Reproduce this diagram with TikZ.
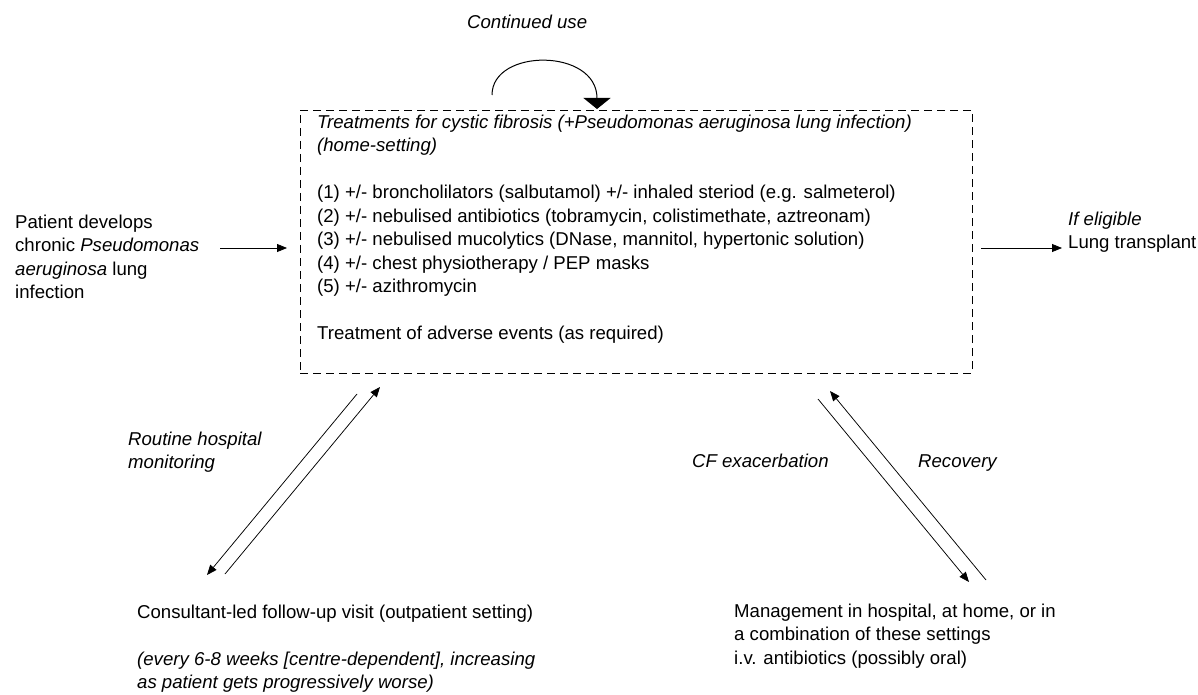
\documentclass[tikz,border=0pt]{standalone}
\usepackage{fontspec}
\setmainfont{Liberation Sans}
\usetikzlibrary{arrows.meta}
\newcommand{\fs}{\fontsize{18.6}{23.5}\selectfont}
\begin{document}
\begin{tikzpicture}[x=1pt,y=1pt,
  txt/.style={anchor=north west, inner sep=0pt, align=left, font=\fs},
  itxt/.style={txt, font=\fs\itshape},
  conn/.style={line width=0.75pt, -{Triangle[length=10pt,width=8pt]}},
  dashbox/.style={draw, line width=0.8pt, dash pattern=on 8pt off 5pt, minimum width=672pt, minimum height=263pt, inner sep=0pt}
  ]
\useasboundingbox (0,0) rectangle (1198,-695);
% main box
\node[dashbox] (box) at (636,-241.5) {};
\node[txt] (main) at (317,-111.55) {\strut\textit{Treatments for cystic fibrosis (+Pseudomonas aeruginosa lung infection)}\\
\textit{(home-setting)}\\
\strut\\
(1) +/- broncholilators (salbutamol) +/- inhaled steriod (e.g. salmeterol)\\
(2) +/- nebulised antibiotics (tobramycin, colistimethate, aztreonam)\\
(3) +/- nebulised mucolytics (DNase, mannitol, hypertonic solution)\\
(4) +/- chest physiotherapy / PEP masks\\
(5) +/- azithromycin\\
\strut\\
Treatment of adverse events (as required)};
% continued use
\node[itxt] (cu) at (467,-11.55) {\strut Continued use};
\coordinate (cuS) at (492,-95);
\coordinate (cuE) at (597,-109);
\draw[line width=1pt, -{Triangle[length=11pt,width=27pt]}] (cuS) .. controls (492,-48) and (597,-48) .. (cuE);
% left
\node[txt] (pat) at (15,-211.55) {\strut Patient develops\\chronic \textit{Pseudomonas}\\\textit{aeruginosa} lung\\infection};
\coordinate (la1) at (220,-248);
\coordinate (la2) at (287,-248);
\draw[conn] (la1) -- (la2);
% right
\node[txt] (lt) at (1068,-208.55) {\strut\textit{If eligible}\\Lung transplant};
\coordinate (ra1) at (981,-248);
\coordinate (ra2) at (1062,-248);
\draw[conn] (ra1) -- (ra2);
% bottom left
\node[itxt] (rhm) at (128,-428.55) {\strut Routine hospital\\monitoring};
\coordinate (a1) at (357,-394);
\coordinate (a2) at (207,-575);
\coordinate (b1) at (225,-574);
\coordinate (b2) at (380,-387);
\draw[conn] (a1) -- (a2);
\draw[conn] (b1) -- (b2);
\node[txt] (cons) at (137,-601.55) {\strut Consultant-led follow-up visit (outpatient setting)\\
\strut\\
\textit{(every 6-8 weeks [centre-dependent], increasing}\\
\textit{as patient gets progressively worse)}};
% bottom right
\node[itxt] (cfx) at (692,-450.55) {\strut CF exacerbation};
\node[itxt] (rec) at (918,-450.55) {\strut Recovery};
\coordinate (c1) at (818,-399);
\coordinate (c2) at (969,-582);
\coordinate (d1) at (986,-580);
\coordinate (d2) at (830,-391);
\draw[conn] (c1) -- (c2);
\draw[conn] (d1) -- (d2);
\node[txt] (mgmt) at (734,-600.55) {\strut Management in hospital, at home, or in\\a combination of these settings\\i.v. antibiotics (possibly oral)};
\end{tikzpicture}
\end{document}
